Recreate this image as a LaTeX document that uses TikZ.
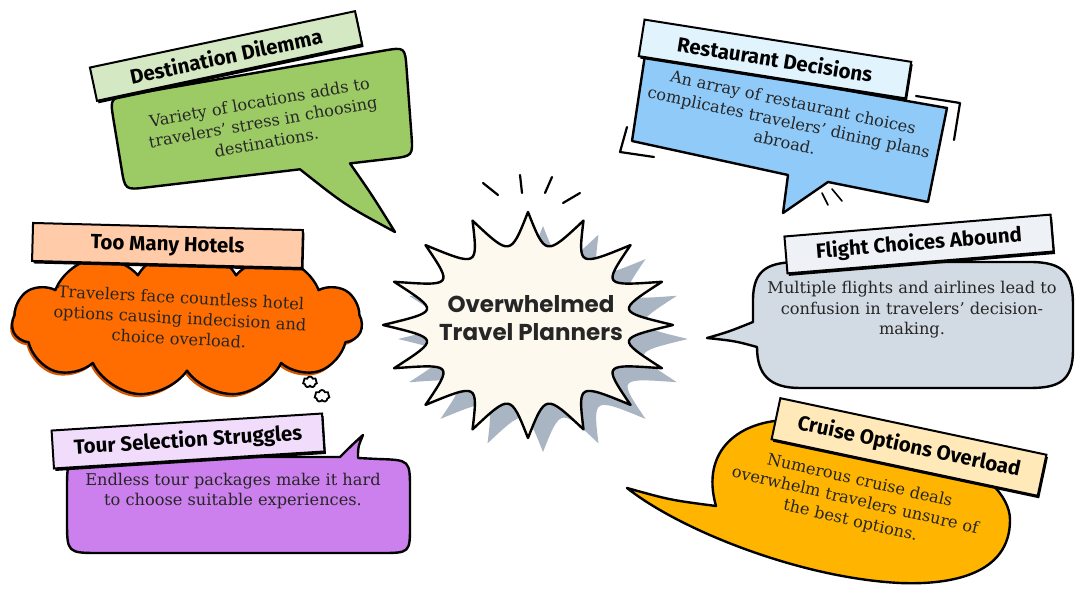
\documentclass[tikz,border=0pt]{standalone}
\usepackage{fontspec}
\setmainfont{DejaVu Serif}
\newfontfamily\titlefont{Fira Sans}
\newfontfamily\centerfont{Poppins}
\usetikzlibrary{shapes.symbols,shadows}
\definecolor{greenb}{HTML}{9CCB66}
\definecolor{greenl}{HTML}{D5E8C4}
\definecolor{blueb}{HTML}{90CAF9}
\definecolor{bluel}{HTML}{E1F3FD}
\definecolor{orangeb}{HTML}{FF6D00}
\definecolor{orangesh}{HTML}{D45500}
\definecolor{peach}{HTML}{FFCBA8}
\definecolor{grayb}{HTML}{D2DAE4}
\definecolor{grayl}{HTML}{EEF2F7}
\definecolor{purpleb}{HTML}{CB80ED}
\definecolor{purplel}{HTML}{F1DDFB}
\definecolor{amberb}{HTML}{FFB400}
\definecolor{amberl}{HTML}{FFE9B8}
\definecolor{cream}{HTML}{FDF9EE}
\definecolor{starsh}{HTML}{AAB5C3}
\definecolor{textc}{HTML}{262626}
\begin{document}
\begin{tikzpicture}[x=1pt,y=-1pt,
  bub/.style={draw=black, line width=2.4pt, line join=round},
  banner/.style={draw=black, line width=2pt, minimum width=#1, minimum height=37pt, inner sep=0pt,
    font=\titlefont\bfseries\fontsize{20.5}{24}\selectfont,
    drop shadow={shadow xshift=1.5pt, shadow yshift=-2.5pt, fill=black, opacity=1}},
  body/.style={align=center, font=\fontsize{16.2}{20.5}\selectfont, text=textc, inner sep=0pt},
  deco/.style={draw=black, line width=2.2pt, line cap=round, line join=round},
  hcloud/.style={cloud, cloud puffs=11, cloud puff arc=120, cloud ignores aspect, minimum width=350pt, minimum height=150pt}]
\useasboundingbox (0,0) rectangle (1086,612);
\fill[white] (0,0) rectangle (1086,612);

% ---------- centre starburst ----------
\begin{scope}[shift={(543,339)}]
\fill[starsh] ({145*cos(90)},{113*sin(90)}) \foreach \i in {1,...,16} { .. controls ({0.62*145*cos(90+(\i-0.5)*22.5)},{0.62*113*sin(90+(\i-0.5)*22.5)}) .. ({145*cos(90+\i*22.5)},{113*sin(90+\i*22.5)}) } -- cycle;
\end{scope}
\begin{scope}[shift={(528,325)}]
\draw[bub, fill=cream] ({145*cos(90)},{113*sin(90)}) \foreach \i in {1,...,16} { .. controls ({0.62*145*cos(90+(\i-0.5)*22.5)},{0.62*113*sin(90+(\i-0.5)*22.5)}) .. ({145*cos(90+\i*22.5)},{113*sin(90+\i*22.5)}) } -- cycle;
\end{scope}
\node[font=\centerfont\bfseries\fontsize{23}{28}\selectfont, align=center, text=textc] (centre) at (531,318) {Overwhelmed\\Travel Planners};
\draw[deco] (483,183) -- (498,195);
\draw[deco] (520,175) -- (522,193);
\draw[deco] (552,177) -- (545,193);
\draw[deco] (580,193) -- (563,203);

% ---------- Destination Dilemma ----------
\draw[bub, fill=greenb] (113.5,119.7) .. controls (110,98) .. (131.7,94.3) -- (383.3,50.7) .. controls (405,47) .. (406.6,68.9) -- (411.4,134.1) .. controls (413,156) .. (391.2,158.6) -- (350,163.4) .. controls (372,195) .. (395,232) .. controls (345,205) .. (300,169.3) -- (146.8,187.4) .. controls (125,190) .. (121.5,168.3) -- cycle;
\node[banner=271pt, minimum height=34pt, fill=greenl, rotate=12] (destT) at (226,56) {Destination Dilemma};
\node[body, rotate=10] (destB) at (263,122) {Variety of locations adds to\\travelers' stress in choosing\\destinations.};

% ---------- Restaurant Decisions ----------
\draw[bub, fill=blueb] (645,55) -- (947,108) -- (928,202) -- (828,182) -- (783,213) -- (788,175) -- (632,141) -- cycle;
\node[banner=270pt, minimum height=37pt, fill=bluel, rotate=-9] (restT) at (775,59) {Restaurant Decisions};
\node[body, rotate=-12] (restB) at (789,122) {An array of restaurant choices\\complicates travelers' dining plans\\abroad.};
\draw[deco] (916,96) -- (960,103) -- (954,140);
\draw[deco] (627,127) -- (620,152) -- (654,157);
\draw[deco, line width=1.6pt] (822,193) -- (828,205);
\draw[deco, line width=1.6pt] (832,189) -- (842,201);

% ---------- Too Many Hotels ----------
\node[hcloud, fill=orangesh] (hotelS) at (185,325) {};
\node[hcloud, bub, fill=orangeb] (hotelC) at (187,322) {};
\node[cloud, cloud puffs=7, cloud ignores aspect, minimum width=14pt, minimum height=11pt, draw=black, line width=1.8pt, fill=white, inner sep=0pt] (th1) at (310,382) {};
\node[cloud, cloud puffs=7, cloud ignores aspect, minimum width=15pt, minimum height=12pt, draw=black, line width=1.8pt, fill=white, inner sep=0pt] (th2) at (322,396) {};
\node[banner=270pt, minimum height=38pt, fill=peach, rotate=-1.5] (hotelT) at (167.5,245.5) {Too Many Hotels};
\node[body, rotate=-3] (hotelB) at (180,318) {Travelers face countless hotel\\options causing indecision and\\choice overload.};

% ---------- Flight Choices Abound ----------
\draw[bub, fill=grayb] (753,322) -- (753,300) .. controls (753,268) and (770,262) .. (800,262) -- (1030,262) .. controls (1065,262) and (1073,275) .. (1073,305) -- (1073,350) .. controls (1073,380) and (1060,388) .. (1030,388) -- (800,388) .. controls (770,388) and (757,375) .. (757,347) .. controls (735,341) .. (707,338) .. controls (728,332) .. (753,322) -- cycle;
\node[banner=267pt, minimum height=37pt, fill=grayl, rotate=4.7] (flightT) at (919,244) {Flight Choices Abound};
\node[body] (flightB) at (912,310) {Multiple flights and airlines lead to\\confusion in travelers' decision-\\making.};

% ---------- Tour Selection Struggles ----------
\draw[bub, fill=purpleb] (102,457) -- (340,457) .. controls (352,445) .. (363,435) .. controls (358,447) .. (358,458) -- (378,459) .. controls (410,460) .. (410,490) -- (410,525) .. controls (410,553) .. (380,553) -- (100,553) .. controls (67,553) .. (67,520) -- (67,490) .. controls (67,457) .. (102,457) -- cycle;
\node[banner=271pt, minimum height=38pt, fill=purplel, rotate=3.6] (tourT) at (188,441) {Tour Selection Struggles};
\node[body] (tourB) at (233,491) {Endless tour packages make it hard\\to choose suitable experiences.};

% ---------- Cruise Options Overload ----------
\draw[bub, fill=amberb] (627,488) .. controls (670,500) .. (716,506) .. controls (700,450) and (740,420) .. (790,420) .. controls (900,420) and (1010,470) .. (1010,520) .. controls (1010,575) and (950,585) .. (900,583) .. controls (800,578) and (680,530) .. (627,488) -- cycle;
\node[banner=272pt, minimum height=42pt, fill=amberl, rotate=-12] (cruiseT) at (909,447) {Cruise Options Overload};
\node[body, rotate=-13] (cruiseB) at (855,501) {Numerous cruise deals\\overwhelm travelers unsure of\\the best options.};
\end{tikzpicture}
\end{document}
